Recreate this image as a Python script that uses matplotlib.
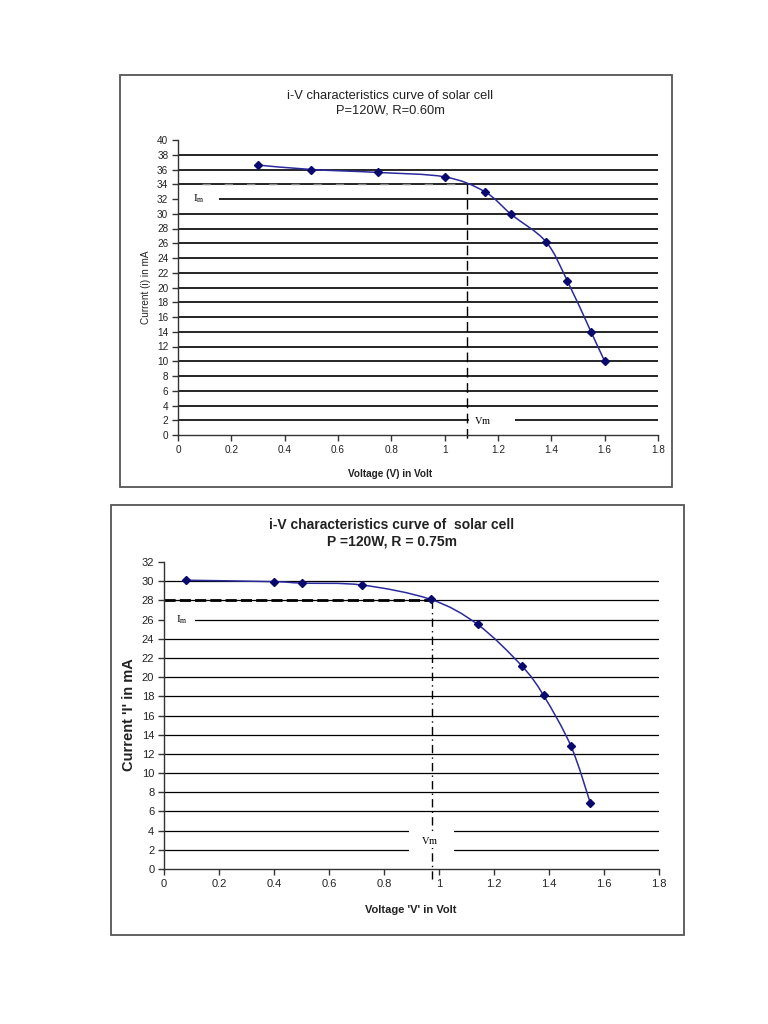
import matplotlib
matplotlib.use("Agg")
import matplotlib.pyplot as plt
from matplotlib.patches import Rectangle, PathPatch
from matplotlib.path import Path
import numpy as np

plt.rcParams['font.family'] = ['Liberation Sans', 'DejaVu Sans']
plt.rcParams['mathtext.fontset'] = 'custom'
plt.rcParams['mathtext.rm'] = 'Liberation Serif'
plt.rcParams['mathtext.it'] = 'Liberation Serif'

# ---------------- data ----------------
v1 = [0.30, 0.50, 0.75, 1.00, 1.15, 1.25, 1.38, 1.46, 1.55, 1.60]
i1 = [36.6, 36.0, 35.6, 35.0, 33.0, 29.9, 26.2, 20.9, 13.9, 10.0]
im1, vm1 = 34.0, 1.083
title1 = "i-V characteristics curve of solar cell\nP=120W, R=0.60m"
xlabel1 = "Voltage (V) in Volt"
ylabel1 = "Current (i) in mA"

v2 = [0.08, 0.40, 0.50, 0.72, 0.97, 1.14, 1.30, 1.38, 1.48, 1.55]
i2 = [30.1, 29.95, 29.8, 29.6, 28.1, 25.5, 21.2, 18.1, 12.8, 6.9]
im2, vm2 = 28.0, 0.973
title2 = "i-V characteristics curve of  solar cell\nP =120W, R = 0.75m"
xlabel2 = "Voltage 'V' in Volt"
ylabel2 = "Current 'I' in mA"

xticks = [0, 0.2, 0.4, 0.6, 0.8, 1.0, 1.2, 1.4, 1.6, 1.8]
yticks1 = list(range(0, 41, 2))
yticks2 = list(range(0, 33, 2))

W, H = 768, 1024
fig = plt.figure(figsize=(W / 100, H / 100), dpi=100)
fig.patch.set_facecolor('white')

LINE_C = '#2a2a9c'
MARK_C = '#0a0a6e'


def fx(px):
    return px / W


def fy(py):
    return 1 - py / H


def frame(x0, y0, x1, y1):
    r = Rectangle((fx(x0), fy(y1)), fx(x1) - fx(x0), fy(y0) - fy(y1),
                  transform=fig.transFigure, fill=False, edgecolor='#555555',
                  linewidth=1.3, zorder=0)
    fig.patches.append(r)


def smooth_path(x, y):
    x = np.asarray(x, float)
    y = np.asarray(y, float)
    pts = np.column_stack([x, y])
    n = len(pts)
    verts = [pts[0]]
    codes = [Path.MOVETO]
    for k in range(n - 1):
        p0 = pts[k - 1] if k > 0 else pts[k]
        p1 = pts[k]
        p2 = pts[k + 1]
        p3 = pts[k + 2] if k + 2 < n else pts[k + 1]
        c1 = p1 + (p2 - p0) / 6.0
        c2 = p2 - (p3 - p1) / 6.0
        verts += [c1, c2, p2]
        codes += [Path.CURVE4] * 3
    return Path(verts, codes)


def make_axes(rect_px, yticks, tick_fs, grid_lw):
    x0, y0, x1, y1 = rect_px
    ax = fig.add_axes([fx(x0), fy(y1), fx(x1) - fx(x0), fy(y0) - fy(y1)])
    ax.set_xlim(0, 1.8)
    ax.set_ylim(yticks[0], yticks[-1])
    ax.set_xticks(xticks)
    ax.set_xticklabels(['%g' % t for t in xticks])
    ax.set_yticks(yticks)
    ax.set_yticklabels(['%g' % t for t in yticks])
    for s in ['top', 'right']:
        ax.spines[s].set_visible(False)
    for s in ['left', 'bottom']:
        ax.spines[s].set_color('#333333')
        ax.spines[s].set_linewidth(1.0)
    ax.tick_params(direction='out', length=4, width=1.0, color='#333333',
                   labelsize=tick_fs, labelcolor='#222222', pad=3)
    ax.set_axisbelow(True)
    ax.grid(axis='y', color='black', linewidth=grid_lw)
    gl = ax.get_ygridlines()
    gl[0].set_visible(False)
    gl[-1].set_visible(False)
    ax.patch.set_alpha(0)
    return ax


# ---------------- chart 1 ----------------
frame(120, 75, 672, 487)
ax1 = make_axes((178, 140, 658, 435), yticks1, 7.2, 1.2)
# white boxes under the labels
ax1.add_patch(Rectangle((0.0, 31.0), 0.154, 2.0, facecolor='white',
                        edgecolor='none', zorder=1))
ax1.add_patch(Rectangle((1.093, 1.0), 0.171, 2.0, facecolor='white',
                        edgecolor='none', zorder=1))
ax1.plot([0.09, vm1], [im1, im1], color='#888888', linewidth=1.0,
         dashes=(6, 10), zorder=1.5)
ax1.plot([vm1, vm1], [im1, -1.0], color='black', linewidth=1.0,
         dashes=(7, 4), zorder=1.5, clip_on=False)
ax1.add_patch(PathPatch(smooth_path(v1, i1), facecolor='none',
                        edgecolor=LINE_C, linewidth=1.1, zorder=2))
ax1.plot(v1, i1, linestyle='none', marker='D', markersize=4.5,
         color=MARK_C, zorder=3)
ax1.text(0.055, 32, r'$\mathrm{I_m}$', fontsize=8, va='center', ha='left',
         zorder=4)
ax1.text(1.11, 2.0, r'$\mathrm{Vm}$', fontsize=7.5, va='center', ha='left',
         zorder=4)
fig.text(fx(390), fy(103), title1, ha='center', va='center', fontsize=9.3,
         color='#222222', linespacing=1.25)
fig.text(fx(390), fy(474), xlabel1, ha='center', va='center', fontsize=7.2,
         fontweight='bold', color='#222222')
fig.text(fx(146), fy(287), ylabel1, ha='center', va='center', fontsize=7.2,
         rotation=90, color='#222222')

# ---------------- chart 2 ----------------
frame(111, 505, 684, 935)
ax2 = make_axes((164, 562, 659, 869), yticks2, 8.0, 0.9)
ax2.add_patch(Rectangle((0.0, 25.0), 0.113, 2.0, facecolor='white',
                        edgecolor='none', zorder=1))
ax2.add_patch(Rectangle((0.89, 1.0), 0.166, 4.0, facecolor='white',
                        edgecolor='none', zorder=1))
ax2.plot([0.0, vm2], [im2, im2], color='black', linewidth=2.0,
         dashes=(4, 1.5), zorder=1.5)
ax2.plot([vm2, vm2], [im2, -1.0], color='black', linewidth=1.0,
         dashes=(6, 3, 1, 3), zorder=1.5, clip_on=False)
ax2.add_patch(Rectangle((0.91, 2.2), 0.12, 1.6, facecolor='white',
                        edgecolor='none', zorder=1.7))
ax2.add_patch(PathPatch(smooth_path(v2, i2), facecolor='none',
                        edgecolor=LINE_C, linewidth=1.1, zorder=2))
ax2.plot(v2, i2, linestyle='none', marker='D', markersize=4.5,
         color=MARK_C, zorder=3)
ax2.text(0.045, 26, r'$\mathrm{I_m}$', fontsize=8, va='center', ha='left',
         zorder=4)
ax2.text(0.965, 3.0, r'$\mathrm{Vm}$', fontsize=7.5, va='center',
         ha='center', zorder=4)
fig.text(fx(392), fy(533), title2, ha='center', va='center', fontsize=10,
         fontweight='bold', color='#222222', linespacing=1.2)
fig.text(fx(411), fy(910), xlabel2, ha='center', va='center', fontsize=8,
         fontweight='bold', color='#222222')
fig.text(fx(129), fy(715), ylabel2, ha='center', va='center', fontsize=10.5,
         fontweight='bold', rotation=90, color='#222222')

fig.savefig('out.png', dpi=100, facecolor='white')
